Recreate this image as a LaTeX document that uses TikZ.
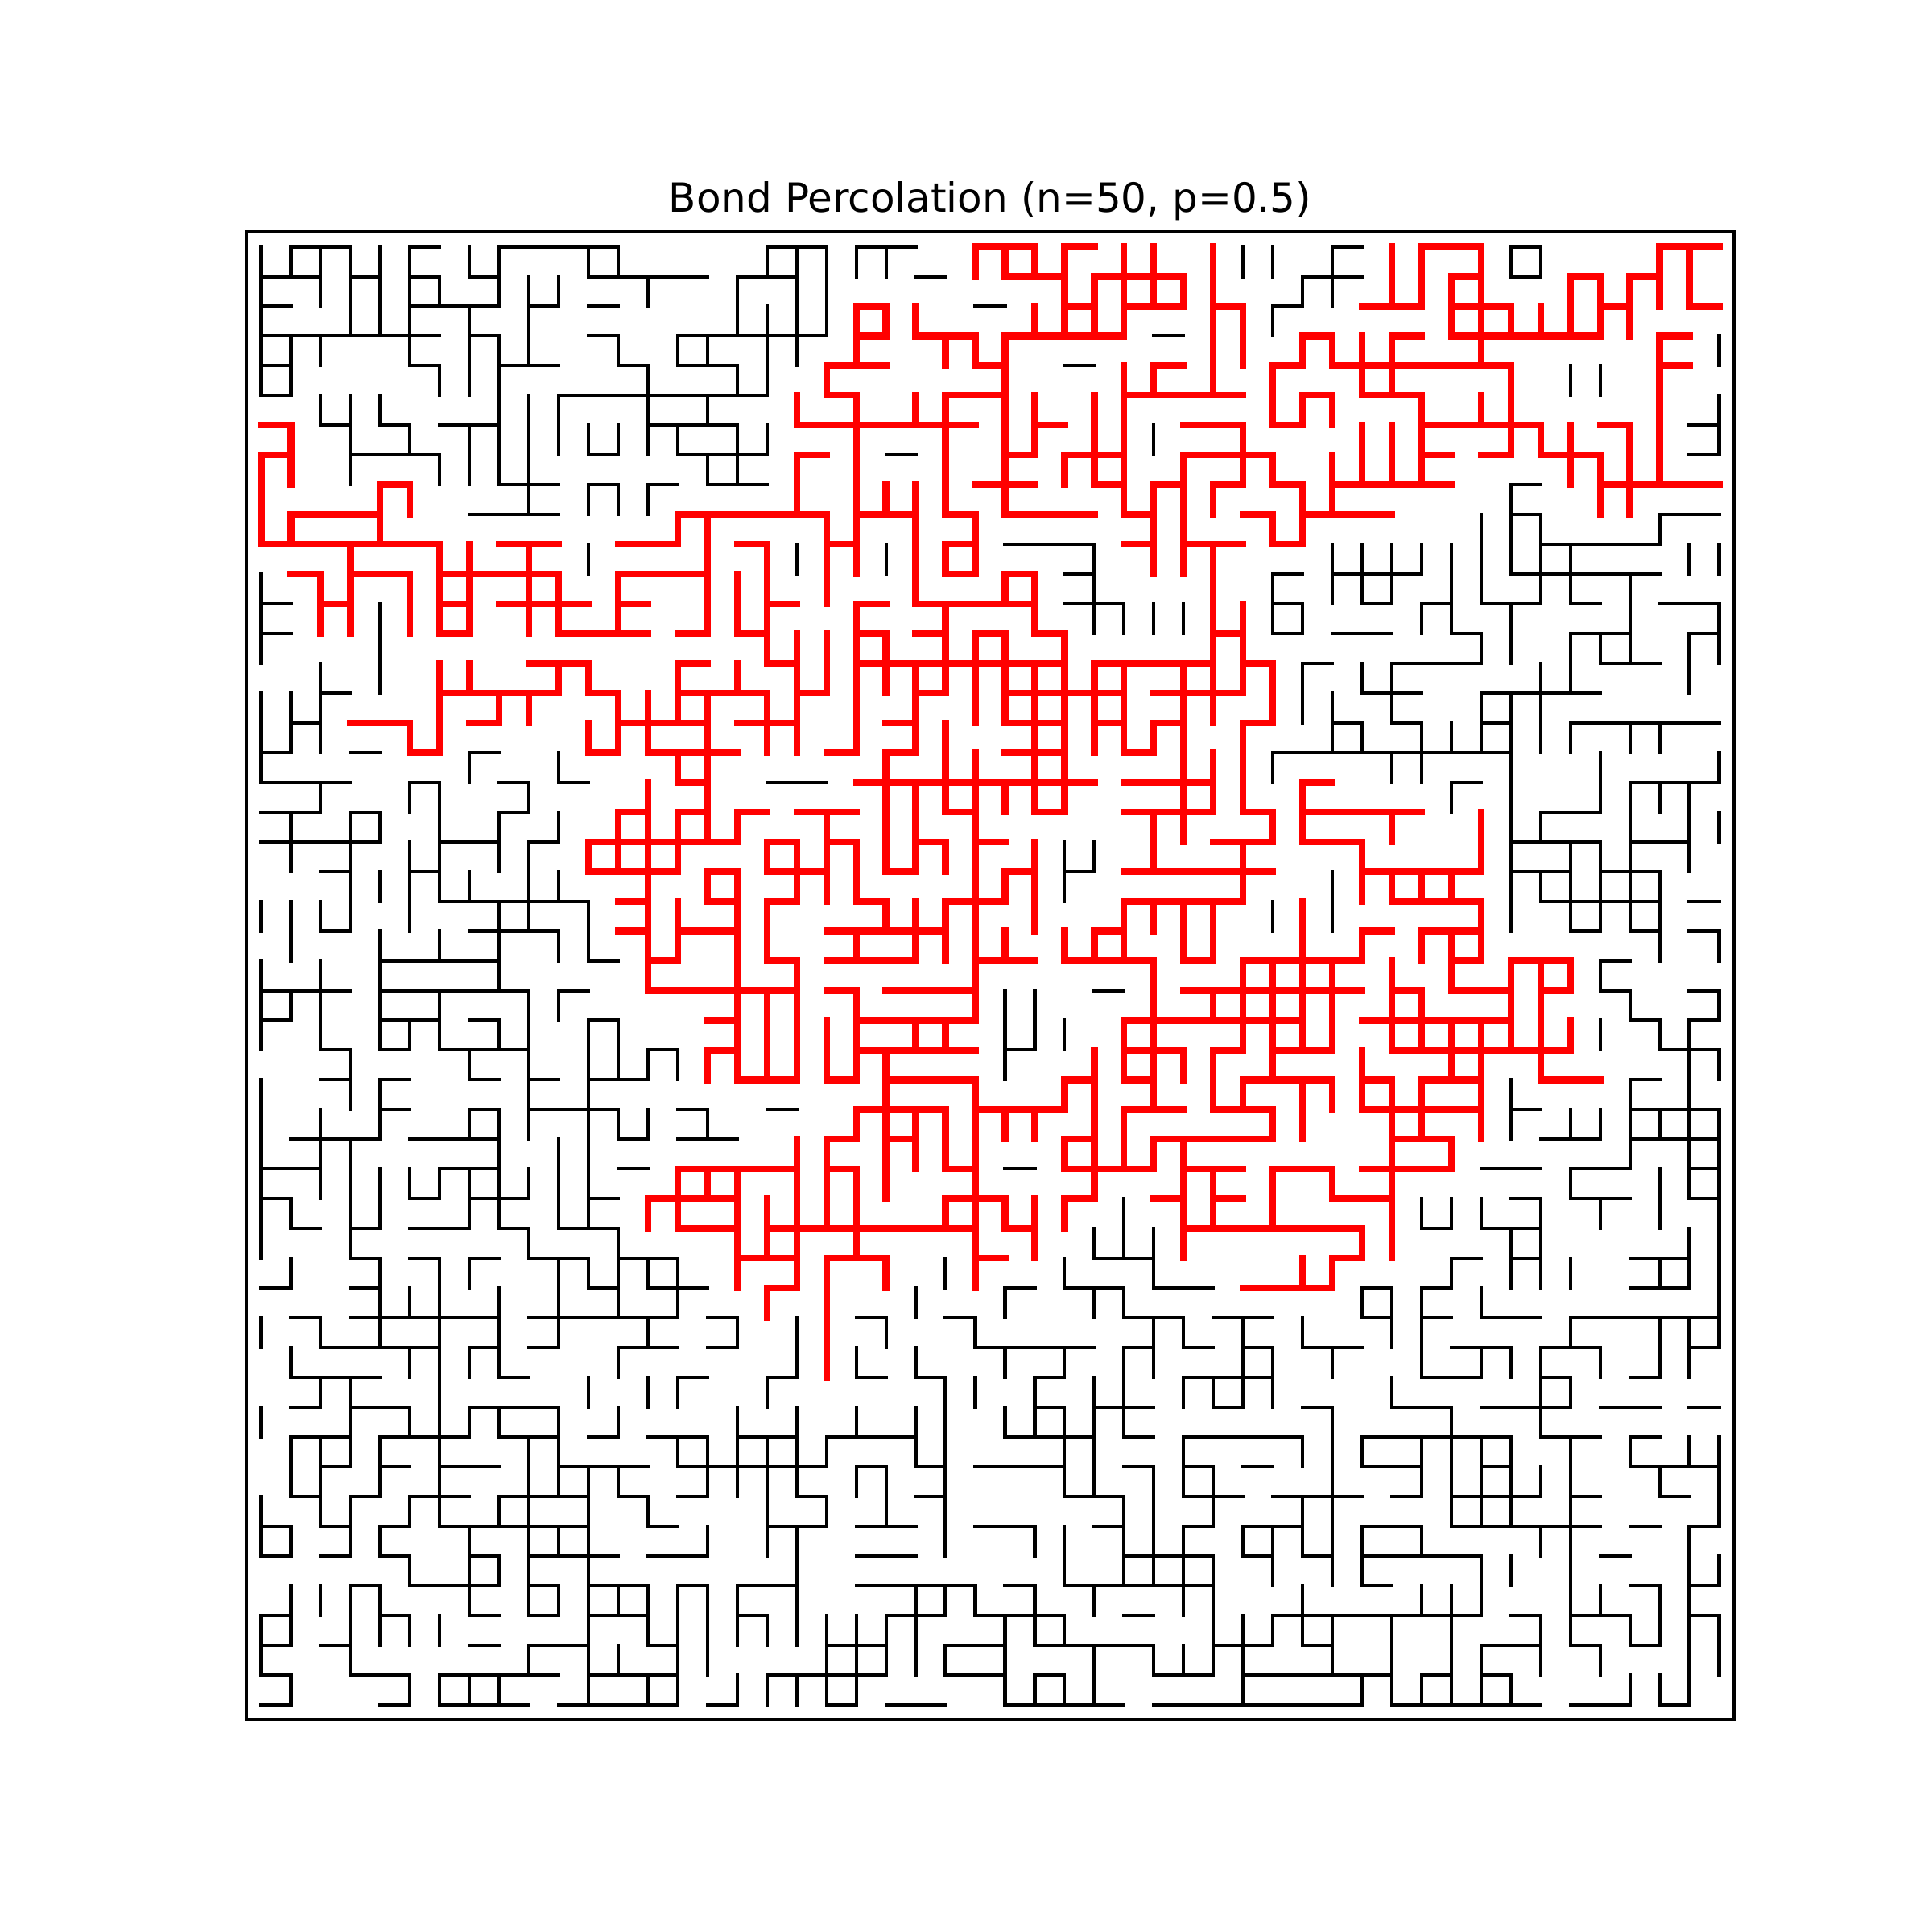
\documentclass[tikz,border=0pt]{standalone}
\usepackage{fontspec}
\setmainfont{DejaVu Sans}
\newcommand\hedges[3]{\foreach \i in {#3}{\draw[#1] (\i,#2) -- (\i+1,#2);}}
\newcommand\vedges[3]{\foreach \i in {#3}{\draw[#1] (\i,#2) -- (\i,#2+1);}}
\begin{document}
\begin{tikzpicture}[x=3.12928mm,y=-3.12928mm,
  blk/.style={line width=1bp,black,line cap=rect},
  rbd/.style={line width=2bp,color={rgb,1:red,1;green,0;blue,0},line cap=rect},
  frame/.style={line width=0.8bp,black}]
\useasboundingbox (-8.7792,-8.2922) rectangle (56.1558,56.6429);
% ---------------- black horizontal edges
\hedges{blk}{0}{1,2,5,8,9,10,11,17,18,20,21,36,42}
\hedges{blk}{1}{0,1,3,5,7,11,12,13,14,16,17,22,35,36,42}
\hedges{blk}{2}{0,5,6,7,9,11,24,34}
\hedges{blk}{3}{0,1,2,3,4,5,7,11,14,15,16,17,18,30}
\hedges{blk}{4}{0,5,8,9,12,14,15,27}
\hedges{blk}{5}{0,10,11,12,13,14,15,16}
\hedges{blk}{6}{2,4,6,7,13,14,15,48}
\hedges{blk}{7}{3,4,5,11,14,15,16,21,48}
\hedges{blk}{8}{8,9,11,13,15,16,42}
\hedges{blk}{9}{7,8,9,42,47,48}
\hedges{blk}{10}{25,26,27,43,44,45,46}
\hedges{blk}{11}{27,34,36,37,38,42,43,44,45,46}
\hedges{blk}{12}{0,27,28,34,37,39,41,42,44,47,48}
\hedges{blk}{13}{0,34,36,37,40,44,45,48}
\hedges{blk}{14}{35,38,39,40,45,46}
\hedges{blk}{15}{2,37,38,41,42,43,44}
\hedges{blk}{16}{1,36,38,41,44,45,46,47,48}
\hedges{blk}{17}{0,3,7,34,35,36,37,38,39,40,41}
\hedges{blk}{18}{0,1,2,5,8,10,17,18,40,46,47,48}
\hedges{blk}{19}{0,1,3,8,43,44}
\hedges{blk}{20}{0,1,2,3,6,7,9,42,43,44,46,47}
\hedges{blk}{21}{2,5,27,42,43,45,46}
\hedges{blk}{22}{6,7,8,9,10,43,44,45,46,48}
\hedges{blk}{23}{2,7,8,9,44,46,48}
\hedges{blk}{24}{4,5,6,7,11,45}
\hedges{blk}{25}{0,1,2,4,5,6,7,8,10,28,45,48}
\hedges{blk}{26}{0,4,5,7,11,46,48}
\hedges{blk}{27}{2,4,6,7,8,13,25,47,48}
\hedges{blk}{28}{2,4,7,9,11,12,46}
\hedges{blk}{29}{4,7,9,10,11,14,17,42,46,47,48}
\hedges{blk}{30}{1,2,3,5,6,7,12,14,15,43,44,46,47,48}
\hedges{blk}{31}{0,1,6,7,12,25,41,42,44,45,48}
\hedges{blk}{32}{0,5,7,8,11,42,44,45,48}
\hedges{blk}{33}{1,3,5,6,8,10,11,39,41,42}
\hedges{blk}{34}{3,5,7,9,10,12,13,28,29,40,42,46,47}
\hedges{blk}{35}{0,3,11,13,14,25,27,28,30,31,37,39,46,47}
\hedges{blk}{36}{1,3,4,5,6,7,9,10,11,12,13,15,20,23,29,30,32,33,37,39,41,42,44,45,46,47,48}
\hedges{blk}{37}{2,3,4,5,7,9,12,13,15,24,25,26,27,29,31,33,35,36,40,41,43,44,48}
\hedges{blk}{38}{1,2,3,8,14,17,20,22,26,31,32,33,39,40,43,46}
\hedges{blk}{39}{1,3,4,7,8,9,26,28,29,32,35,38,39,41,42,43,45,46,48}
\hedges{blk}{40}{1,2,4,5,6,8,9,11,13,14,16,17,19,20,21,25,26,27,29,31,32,33,34,37,38,39,40,41,43,44,46}
\hedges{blk}{41}{2,4,6,7,10,11,12,14,15,16,17,18,20,22,24,25,26,29,31,33,37,38,41,46,47,48}
\hedges{blk}{42}{1,3,5,6,8,9,10,12,14,18,22,27,28,31,32,34,35,36,38,40,41,42,44,47}
\hedges{blk}{43}{0,2,4,6,7,8,9,10,13,17,18,20,21,24,25,28,31,33,34,37,38,40,41,42,43,44,46,48}
\hedges{blk}{44}{0,2,4,7,9,10,11,13,14,20,21,29,30,31,33,35,37,38,39,40,45}
\hedges{blk}{45}{3,5,6,7,9,11,12,14,16,17,20,21,22,23,25,27,28,29,30,31,37,46,48}
\hedges{blk}{46}{0,4,7,9,11,12,16,21,22,24,25,26,29,34,35,36,37,38,39,40,42,44,45,48}
\hedges{blk}{47}{0,2,7,9,10,13,19,20,23,24,26,27,28,29,32,33,35,41,42,44,46}
\hedges{blk}{48}{0,3,4,6,7,8,9,11,12,13,17,18,19,20,23,24,26,30,31,33,34,35,36,37,39,41}
\hedges{blk}{49}{0,4,6,7,8,10,11,12,13,15,19,21,22,25,26,27,28,30,31,32,33,34,35,36,38,39,40,41,42,44,45,47}
% ---------------- black vertical edges
\vedges{blk}{0}{0,1,2,3,4,5,7,8,11,12,17,18,19,20,21,33,34,36,42,43}
\vedges{blk}{1}{0,2,3,4,5,6,8,9,10,13,16,18,19,35,36}
\vedges{blk}{2}{0,3,4,5,7,9,16,17,18,19,34}
\vedges{blk}{3}{0,1,2,5,7,8,9,12,14,15,17,18,49}
\vedges{blk}{4}{0,1,6,7,8,13,16,17,44,45}
\vedges{blk}{5}{2,3,4,8,9,10,13,15,49}
\vedges{blk}{6}{3,5,7,8,9,10,11,12,13,14,16,17,30,49}
\vedges{blk}{7}{3,6,7,8,9,15,16}
\vedges{blk}{8}{9,11,12,13,42}
\vedges{blk}{9}{41,42,43,47}
\vedges{blk}{10}{11,18,21,28,36,37,38,39,40,41,42,43,44,48,49}
\vedges{blk}{11}{0,28,34,36,37,38,40,41,43,44,46}
\vedges{blk}{12}{0,4,28,29,30,31,34,35,39,40,42,46,49}
\vedges{blk}{13}{0,4,41,42,44,45,46,48,49}
\vedges{blk}{14}{2,4,35,37,38,43,44,48}
\vedges{blk}{15}{0,1,2,35,36,38,41,42,43}
\vedges{blk}{16}{0,1,2,36,37,39,40,41,42,43,44,46,47}
\vedges{blk}{17}{0,7,10,34,38,39,42,45,49}
\vedges{blk}{18}{2,5,6,9,40,42,45,46,47,48}
\vedges{blk}{19}{1,3,4,6,8,10,42,43,46,48,49}
\vedges{blk}{20}{1,3,5,6,8,9,27,28,42,44,45,46,48}
\vedges{blk}{21}{3,4,5,6,7,9,10,27,36,42,43,44,45,46,47}
\vedges{blk}{22}{0,1,2,3,5,8,9,11,34,36,42,44,45,46,47}
\vedges{blk}{23}{1,4,6,8,10,11,47,49}
\vedges{blk}{24}{0,2,4,8,45}
\vedges{blk}{25}{0,1,2,4,6,9,10,25,26,46,49}
\vedges{blk}{26}{0,2,4,5,6,8,9,11,12,25,26,27,45,47,48}
\vedges{blk}{27}{3,7,9,11,12,13,14,25,48,49}
\vedges{blk}{28}{0,3,4,9,11,42,46,48}
\vedges{blk}{29}{0,2,4,7,8,9,11,12,13,15,42,44,45,46,47,48,49}
\vedges{blk}{30}{0,2,3,8,10,11,46,48,49}
\vedges{blk}{31}{0,2,3,4,5,6,7,8,9,10,11,44,47,48,49}
\vedges{blk}{32}{0,1,3,4,7,8,10,11,29,39,40,41,43,45,47,49}
\vedges{blk}{33}{0,3,9,12,28,29,30,42,43,48,49}
\vedges{blk}{34}{1,4,6,7,10,11,12,13,14,23,27,30,40,42,43,44,47,48,49}
\vedges{blk}{35}{4,5,6,8,10,12,14,22,25,28,29,37,38,39,41,49}
\vedges{blk}{36}{0,2,4,6,8,10,13,16,18,21,24,30,31,33,35,38,39,44,47,48,49}
\vedges{blk}{37}{1,5,6,7,8,12,18,20,22,25,27,29,30,33,34,36,39,41,42,43,45,47,48}
\vedges{blk}{38}{2,3,6,11,13,14,17,23,24,26,28,29,31,32,33,34,38,43,44}
\vedges{blk}{39}{0,3,5,6,7,8,10,12,16,18,20,22,23,25,26,27,28,29,36,40,43}
\vedges{blk}{40}{1,2,3,4,6,9,10,14,15,16,17,18,19,22,23,27,28,31,35,36,37,39,40,41,42,44,46,48,49}
\vedges{blk}{41}{1,2,4,6,9,10,11,12,15,16,17,18,20,21,23,27,28,30,31,32,36,39,40,41,42,43,44,47,49}
\vedges{blk}{42}{0,2,3,5,6,8,9,11,13,17,19,21,23,29,30,32,35,36,40,41,42,44,49}
\vedges{blk}{43}{0,1,3,4,7,9,10,11,15,17,18,23,26,27,29,30,31,33,34,35,36,37,39,43,44,48}
\vedges{blk}{44}{5,7,8,9,11,18,27,29,30,31,32,34,36,37,41,42,44,48,49}
\vedges{blk}{45}{1,2,3,4,7,9,10,11,12,13,14,15,16,18,22,23,24,26,28,31,32,35,39,40,41,44,45,47,48}
\vedges{blk}{46}{0,1,3,4,5,6,11,13,14,15,16,17,18,19,20,21,22,25,26,27,32,33,34,35,36,38,40,43,44,46,47,48,49}
\vedges{blk}{47}{0,3,9,11,12,14,15,19,20,21,22,23,25,28,30,31,32,33,36,38,40,41,43,45,48,49}
\vedges{blk}{48}{1,5,6,7,8,11,13,14,16,17,18,19,20,25,26,27,28,33,37,38,39,40,41,42,46,47,48}
% ---------------- red horizontal edges
\hedges{rbd}{0}{24,25,27,39,40,47,48}
\hedges{rbd}{1}{25,26,28,29,30,40,44,46}
\hedges{rbd}{2}{20,27,29,30,32,37,38,40,41,45,48}
\hedges{rbd}{3}{20,22,23,25,26,27,28,35,38,40,41,42,43,44,47}
\hedges{rbd}{4}{19,20,24,30,34,36,37,38,39,40,41,47}
\hedges{rbd}{5}{19,23,24,29,30,31,32,35,37,38}
\hedges{rbd}{6}{0,18,19,20,21,22,23,26,31,32,34,39,40,41,42,45}
\hedges{rbd}{7}{0,18,25,27,28,31,32,33,39,41,43,44}
\hedges{rbd}{8}{4,24,25,28,30,32,34,36,37,38,39,45,46,47,48}
\hedges{rbd}{9}{1,2,3,14,15,16,17,18,20,21,23,25,26,27,29,33,35,36,37}
\hedges{rbd}{10}{0,1,2,3,4,5,8,9,12,13,16,19,23,29,31,32,34}
\hedges{rbd}{11}{1,3,4,6,7,8,9,12,13,14,23,25}
\hedges{rbd}{12}{2,6,8,9,10,12,17,20,22,23,24,25}
\hedges{rbd}{13}{6,10,11,12,14,16,20,22,24,26,32}
\hedges{rbd}{14}{9,10,14,17,20,21,22,23,24,25,26,28,29,30,31,33}
\hedges{rbd}{15}{6,7,8,9,11,14,15,16,18,22,25,26,27,28,30,31,32}
\hedges{rbd}{16}{3,4,7,12,13,14,16,17,21,25,26,28,30,33}
\hedges{rbd}{17}{5,11,13,14,15,19,21,25,26,29}
\hedges{rbd}{18}{14,20,21,22,23,24,25,26,27,29,30,31,35}
\hedges{rbd}{19}{12,14,16,18,19,23,26,29,30,31,33,35,36,37,38}
\hedges{rbd}{20}{11,12,13,14,15,17,19,22,24,32,33,35,36}
\hedges{rbd}{21}{11,12,13,15,17,18,21,25,29,30,31,32,33,37,38,39,40}
\hedges{rbd}{22}{12,15,17,20,23,24,29,30,31,32,38,39,40}
\hedges{rbd}{23}{12,14,15,19,20,21,22,28,37,39,40}
\hedges{rbd}{24}{13,17,19,20,21,24,25,27,28,29,31,33,34,35,36,40,42,43}
\hedges{rbd}{25}{13,14,15,16,17,19,21,22,23,31,32,33,34,35,36,38,40,41,43}
\hedges{rbd}{26}{15,20,21,22,23,29,30,31,32,33,34,37,38,39,40,41}
\hedges{rbd}{27}{15,20,21,22,23,29,30,32,34,35,38,39,40,41,42,43}
\hedges{rbd}{28}{16,17,19,21,22,23,27,29,33,34,35,37,39,40,43,44}
\hedges{rbd}{29}{20,21,22,24,25,26,29,30,32,33,37,38,39,40}
\hedges{rbd}{30}{19,21,27,30,31,32,33,38,39}
\hedges{rbd}{31}{14,15,16,17,19,23,27,28,29,31,32,34,35,37,38,39}
\hedges{rbd}{32}{13,14,15,23,24,27,30,32,36,37}
\hedges{rbd}{33}{14,15,17,18,19,20,21,22,23,25,31,32,33,34,35,36}
\hedges{rbd}{34}{16,17,19,20,24,36}
\hedges{rbd}{35}{17,33,34,35}
% ---------------- red vertical edges
\vedges{rbd}{0}{24,25,26,27,29,30,32,38,39,41,47,48}
\vedges{rbd}{1}{27,28,29,30,31,32,38,39,40,41,44,45,46,47,48}
\vedges{rbd}{2}{20,21,22,26,27,28,29,32,33,40,41,42,43,44,45,46}
\vedges{rbd}{3}{20,23,24,25,32,33,35,36,37,38,41,47}
\vedges{rbd}{4}{19,25,29,30,32,34,37,38,42,47}
\vedges{rbd}{5}{18,20,22,23,25,26,28,29,34,35,36,39,41,42,47}
\vedges{rbd}{6}{1,20,23,25,26,28,29,33,37,38,39,42,43,44,46,47}
\vedges{rbd}{7}{0,1,18,20,23,25,27,28,29,31,33,34,36,37,38,39,44,45,46,47}
\vedges{rbd}{8}{0,4,5,18,20,21,22,23,25,29,30,31,32,35,36,45,46}
\vedges{rbd}{9}{0,1,4,14,15,19,20,22,24,30,31,34,35}
\vedges{rbd}{10}{3,6,7,9,15,17,19,20,22,23,24,30,31,32}
\vedges{rbd}{11}{2,3,5,6,7,9,10,12,15,16,17,19,22,25,26,32}
\vedges{rbd}{12}{2,3,5,6,7,9,10,12,15,16,17,20,23,26,32,33}
\vedges{rbd}{13}{17,18,19,20,21,23,24,25,27,32,33}
\vedges{rbd}{14}{6,7,10,11,14,16,18,19,20,21,22,23,24,25,26,27,28,29,31,32,33,34}
\vedges{rbd}{15}{6,8,9,12,13,14,15,17,18,20,22,24,25,26,27,28,29,31,32,34}
\vedges{rbd}{16}{5,6,11,12,13,15,17,18,20,22,23,26,27,28,29,30,31,33}
\vedges{rbd}{17}{14,15,21,23,24,26,27,31,32,33}
\vedges{rbd}{18}{13,15,21,22,23,24,25,26,27,31,32,33,35}
\vedges{rbd}{19}{12,13,14,15,16,19,21,22,24,30,31,34,35,38,41}
\vedges{rbd}{20}{11,12,13,14,17,18,19,20,21,22,23,24,26,30,33,37,41}
\vedges{rbd}{21}{13,15,16,18,19,20,24,25,26,33,37,38,39,40}
\vedges{rbd}{22}{13,14,16,17,21,22,23,24,26,29,30,31,32,35,41}
\vedges{rbd}{23}{13,14,16,17,20,22,23,24,25,27,28,29,31,32,35,37,39,40,41}
\vedges{rbd}{24}{13,16,18,24,30,33,34,35,36,38,40,42,43,44}
\vedges{rbd}{25}{16,17,18,20,24,30,32,33,34,35,36,38,39,42,43}
\vedges{rbd}{26}{16,17,18,19,20,22,23,29,30,33,34,35,36,38,39,40,41,42,43,44}
\vedges{rbd}{27}{15,16,17,18,19,20,21,28,29,30,31,32,34,37,40,41,43}
\vedges{rbd}{28}{21,24,27,28,30,32,33,35,36,37,38,39,41}
\vedges{rbd}{29}{20,21,22,23,24,25,26,28,29,34,35,38,39,41}
\vedges{rbd}{30}{18,19,21,22,23,24,27,28,29,30,31,38,40}
\vedges{rbd}{31}{14,15,16,18,19,20,21,24,28,31,32,34,36,38}
\vedges{rbd}{32}{13,14,16,17,18,19,20,23,24,25,26,27,31,32,34,38}
\vedges{rbd}{33}{16,17,18,20,24,26,31,37,38}
\vedges{rbd}{34}{16,18,19,21,24,35,36}
\vedges{rbd}{35}{17,19}
\vedges{rbd}{36}{19}
\vedges{rbd}{37}{19}
% ---------------- frame and title
\draw[frame] (-0.5,-0.5) rectangle (49.5,49.5);
\node[anchor=base,inner sep=0pt,font=\fontsize{12bp}{14bp}\selectfont] (title) at (24.5,-1.1764) {Bond Percolation (n=50, p=0.5)};
\end{tikzpicture}
\end{document}
